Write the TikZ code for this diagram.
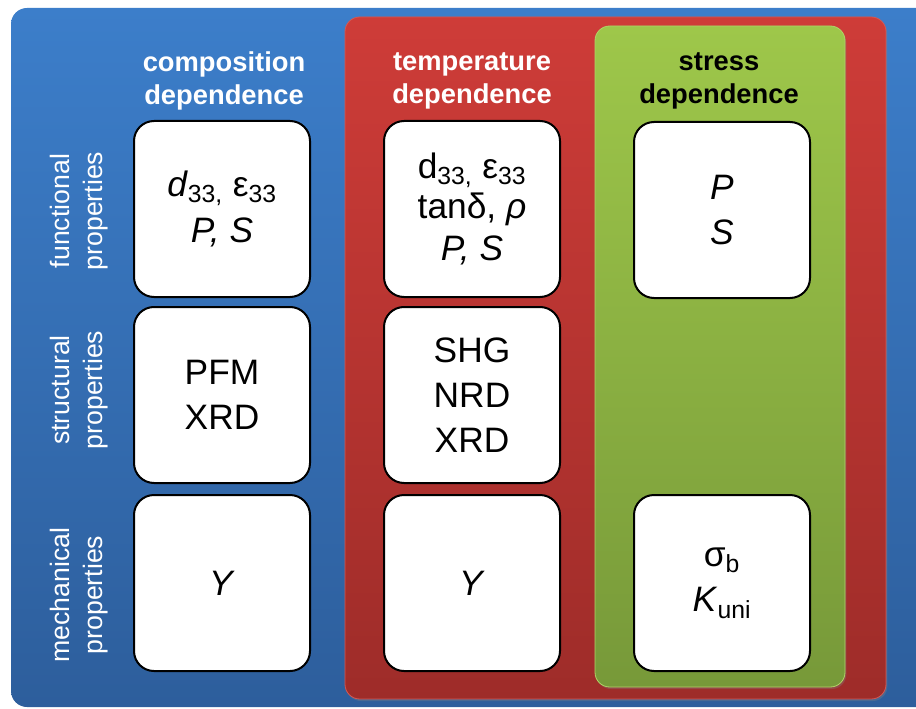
\documentclass[tikz,border=0pt]{standalone}
\usepackage{fontspec}
\setmainfont{Liberation Sans}
\usetikzlibrary{shadows}

\definecolor{blueTop}{RGB}{60,126,202}
\definecolor{blueBot}{RGB}{45,94,156}
\definecolor{redTop}{RGB}{206,60,56}
\definecolor{redBot}{RGB}{158,44,41}
\definecolor{redEdge}{RGB}{214,88,82}
\definecolor{greenTop}{RGB}{158,199,74}
\definecolor{greenBot}{RGB}{119,153,57}
\definecolor{greenEdge}{RGB}{176,212,104}

\tikzset{every picture/.style={line width=0.75pt}}
\tikzset{
  propbox/.style={draw=black, line width=1.5pt, fill=white, rounded corners=15pt,
    minimum width=132pt, minimum height=132pt, inner sep=0pt, align=center,
    font=\fontsize{26.5}{34}\selectfont},
  colhead/.style={align=center, font=\fontsize{20.5}{25}\selectfont\bfseries},
  rowhead/.style={align=center, rotate=90, text=white, font=\fontsize{20}{25}\selectfont},
  panelshadow/.style={drop shadow={shadow xshift=1pt, shadow yshift=-1.5pt, opacity=.35}},
}

\begin{document}
\begin{tikzpicture}[x=0.75pt,y=0.75pt,yscale=-1,xscale=1]
	\useasboundingbox (0,0) rectangle (916,709);

	%Shape: Rounded Rect [id:blue panel]
	\shade [top color=blueTop, bottom color=blueBot, rounded corners=12pt] (11,8) rectangle (935,707);
	%Shape: Rounded Rect [id:red panel]
	\shade [panelshadow, top color=redTop, bottom color=redBot, draw=redEdge, line width=0.6pt, rounded corners=11pt] (345,17) rectangle (886,699);
	%Shape: Rounded Rect [id:green panel]
	\shade [panelshadow, top color=greenTop, bottom color=greenBot, draw=greenEdge, line width=0.6pt, rounded corners=11pt] (595,26) rectangle (845,687);

	% Text Node
	\draw (224,81) node [colhead, text=white] (hcomp) {composition\\dependence};
	% Text Node
	\draw (472,81) node [colhead, text=white] (htemp) {temperature\\dependence};
	% Text Node
	\draw (719,81) node [colhead, text=black] (hstress) {stress\\dependence};

	% Text Node
	\draw (79,211) node [rowhead] (rfunc) {functional\\properties};
	% Text Node
	\draw (79,390) node [rowhead] (rstruct) {structural\\properties};
	% Text Node
	\draw (79,595) node [rowhead] (rmech) {mechanical\\properties};

	%Shape: Rounded Rect [id:composition boxes]
	\draw (222,209) node [propbox] (compfunc) {\textit{d}\textsubscript{33,} ε\textsubscript{33}\\\textit{P, S}};
	\draw (222,395) node [propbox] (compstruct) {PFM\\XRD};
	\draw (222,583) node [propbox] (compmech) {\textit{Y}};

	%Shape: Rounded Rect [id:temperature boxes]
	\draw (472,209) node [propbox] (tempfunc) {d\textsubscript{33,} ε\textsubscript{33}\\[-4pt]tanδ, \textit{ρ}\\[-2pt]\textit{P, S}};
	\draw (472,395) node [propbox] (tempstruct) {SHG\\NRD\\XRD};
	\draw (472,583) node [propbox] (tempmech) {\textit{Y}};

	%Shape: Rounded Rect [id:stress boxes]
	\draw (722,210) node [propbox] (stressfunc) {\textit{P}\\\textit{S}};
	\draw (722,583) node [propbox] (stressmech) {σ\textsubscript{b}\\\textit{K}\textsubscript{uni}};

\end{tikzpicture}
\end{document}
